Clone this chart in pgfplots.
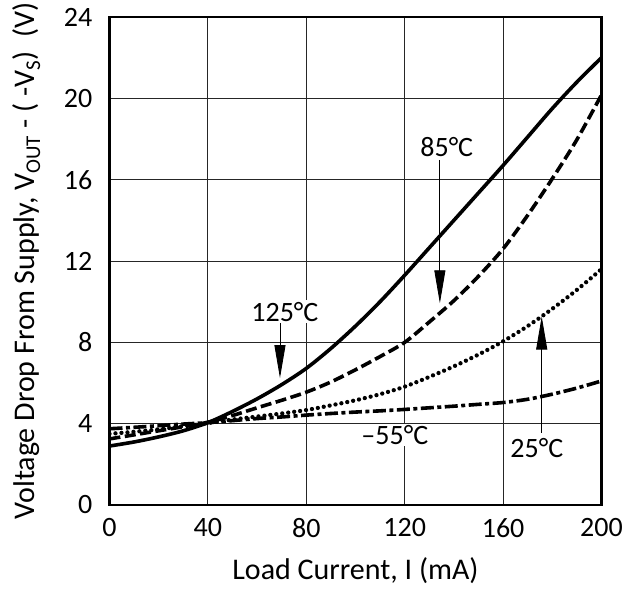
\documentclass[border=0pt]{standalone}
\usepackage{fontspec}
\setmainfont{Carlito}
\usepackage{pgfplots}
\usepackage{pgfplotstable}
\pgfplotsset{compat=1.18}
\usetikzlibrary{arrows.meta}

\pgfplotstableread{
x y
0 2.9
10 3.1
20 3.35
30 3.65
40 4.05
50 4.6
60 5.22
70 5.92
80 6.72
90 7.7
100 8.8
110 10.0
120 11.3
130 12.65
140 14.0
150 15.35
160 16.7
170 18.1
180 19.5
190 20.8
200 22.0
}\tabA

\pgfplotstableread{
x y
0 3.25
10 3.45
20 3.65
30 3.85
40 4.07
50 4.4
60 4.78
70 5.15
80 5.55
90 6.05
100 6.65
110 7.3
120 8.0
130 9.0
140 10.05
150 11.25
160 12.6
170 14.25
180 16.05
190 17.97
200 20.17
}\tabB

\pgfplotstableread{
x y
0 3.5
10 3.6
20 3.72
30 3.88
40 4.03
50 4.2
60 4.35
70 4.5
80 4.67
90 4.9
100 5.15
110 5.45
120 5.82
130 6.3
140 6.82
150 7.4
160 8.05
170 8.8
180 9.65
190 10.58
200 11.6
}\tabC

\pgfplotstableread{
x y
0 3.75
10 3.82
20 3.9
30 3.98
40 4.05
50 4.15
60 4.25
70 4.33
80 4.42
90 4.5
100 4.57
110 4.63
120 4.7
130 4.78
140 4.86
150 4.95
160 5.04
170 5.2
180 5.45
190 5.75
200 6.1
}\tabD

\begin{document}
\begin{tikzpicture}
\path[use as bounding box] (-109.5pt,-84pt) rectangle (523.5pt,505pt);
\begin{axis}[
  at={(0pt,0pt)}, anchor=south west,
  scale only axis, width=492pt, height=488pt,
  xmin=0, xmax=200, ymin=0, ymax=24,
  xtick={0,40,...,200}, ytick={0,4,...,24},
  major tick length=0pt,
  grid=major,
  major grid style={black!85, line width=0.9pt},
  axis line style={black, line width=2.6pt},
  /pgf/number format/assume math mode=true,
  ticklabel style={font=\fontsize{28}{32}\selectfont, inner sep=0pt},
  yticklabel style={anchor=east, xshift=-17pt},
  xticklabel style={anchor=north, yshift=-13pt},
  xlabel={Load Current, I (mA)},
  ylabel={Voltage Drop From Supply, V\textsubscript{OUT} - ( -V\textsubscript{S})\ \ (V)},
  label style={font=\fontsize{30}{34}\selectfont},
  xlabel style={at={(axis description cs:0.5,0)}, anchor=base, yshift=-75pt},
  ylabel style={at={([xshift=-74.5pt]axis description cs:0,0.5)}, anchor=base, rotate=0},
  every axis y label/.append style={rotate=0},
]
\addplot[black, line width=3.6pt, smooth] table {\tabA};
\addplot[black, line width=3.6pt, smooth, dash pattern=on 11pt off 4.5pt] table {\tabB};
\addplot[black, line width=4.3pt, smooth, line cap=round, dash pattern=on 0pt off 6pt] table {\tabC};
\addplot[black, line width=3.6pt, smooth, dash pattern=on 13pt off 3.5pt on 4pt off 3.5pt] table {\tabD};

\draw[line width=0.9pt, -{Triangle[length=33pt,width=11pt]}] (axis cs:69.3,8.95) -- (axis cs:69.3,6.24);
\draw[line width=0.9pt, -{Triangle[length=33pt,width=11pt]}] (axis cs:134.3,16.97) -- (axis cs:134.3,9.92);
\draw[line width=0.9pt, -{Triangle[length=33pt,width=11pt]}] (axis cs:175.7,3.55) -- (axis cs:175.7,9.27);

\begin{scope}[every node/.style={font=\fontsize{28}{32}\selectfont, fill=white, inner sep=1.5pt}]
\node at (axis cs:71.3,9.51) {125°C};
\node[fill=none] at (axis cs:137.1,17.62) {85°C};
\node at (axis cs:116,3.44) {–55°C};
\node at (axis cs:173.7,2.79) {25°C};
\end{scope}
\end{axis}
\end{tikzpicture}
\end{document}
